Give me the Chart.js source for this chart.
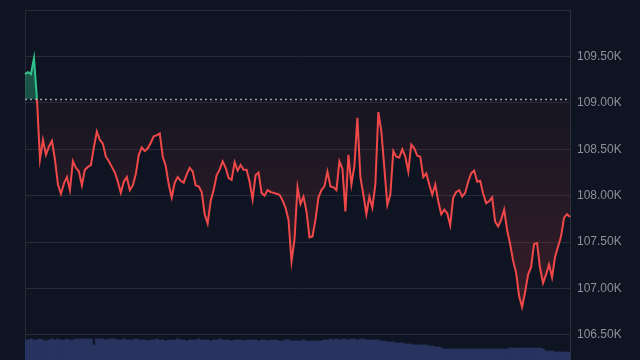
<!DOCTYPE html>
<html>
<head>
<meta charset="utf-8">
<script src="https://cdn.jsdelivr.net/npm/chart.js@4.4.1/dist/chart.umd.min.js"></script>
<style>
    html, body { margin: 0; padding: 0; background: #0e1421; }
    #wrap { width: 640px; height: 360px; }
</style>
</head>
<body>
<div id="wrap"><canvas id="priceChart"></canvas></div>
<script>
// =======================
// Intraday price chart – BTC style
// =======================

// ---------- DATA ----------
const prevClose = 109040;

const prices = [
    109310, 109330, 109310, 109480, 109040, 108390, 108600, 108440, 108530, 108590,
    108390, 108120, 108020, 108130, 108200, 108060, 108370, 108300, 108260, 108110,
    108280, 108310, 108330, 108520, 108690, 108600, 108560, 108420, 108370, 108310,
    108250, 108150, 108030, 108150, 108200, 108060, 108110, 108230, 108440, 108520,
    108480, 108510, 108570, 108640, 108650, 108670, 108420, 108320, 108120, 107980,
    108140, 108200, 108160, 108140, 108230, 108300, 108260, 108110, 108100, 108040,
    107800, 107700, 107940, 108060, 108220, 108280, 108370, 108300, 108190, 108170,
    108360, 108270, 108330, 108280, 108280, 108150, 107960, 108220, 108250, 108030,
    108000, 108060, 108040, 108030, 108020, 108010, 107950, 107870, 107740, 107290,
    107530, 108090, 107910, 107990, 107830, 107550, 107560, 107740, 107980, 108060,
    108100, 108260, 108100, 108090, 108060, 108370, 108290, 107830, 108440, 108120,
    108320, 108840, 108200, 108010, 107800, 107990, 107870, 108120, 108900, 108690,
    108300, 107900, 108010, 108480, 108420, 108410, 108500, 108420, 108260, 108550,
    108510, 108430, 108420, 108200, 108240, 108120, 108010, 108120, 107940, 107800,
    107850, 107810, 107680, 107980, 108040, 108060, 107990, 108030, 108150, 108240,
    108270, 108150, 108160, 108020, 107920, 107940, 107980, 107720, 107670, 107740,
    107850, 107630, 107480, 107300, 107170, 106920, 106800, 106960, 107150, 107230,
    107480, 107490, 107220, 107060, 107150, 107260, 107120, 107340, 107450, 107560,
    107760, 107800, 107770
];

const volumes = [
    20, 20, 21, 20, 20, 21, 20, 19, 20, 21,
    20, 21, 20, 20, 21, 20, 20, 21, 21, 21,
    21, 21, 21, 15, 21, 21, 21, 20, 21, 21,
    21, 20, 20, 21, 20, 20, 20, 21, 20, 20,
    20, 19, 20, 20, 21, 20, 20, 19, 20, 20,
    20, 21, 20, 20, 19, 20, 20, 20, 21, 20,
    20, 20, 19, 20, 20, 21, 20, 20, 20, 19,
    20, 20, 20, 19, 20, 20, 20, 20, 19, 20,
    20, 19, 20, 20, 20, 19, 19, 20, 20, 19,
    19, 19, 19, 20, 19, 19, 19, 19, 19, 19,
    20, 20, 21, 20, 21, 20, 21, 21, 20, 21,
    21, 20, 21, 21, 20, 20, 20, 20, 20, 19,
    19, 18, 18, 18, 17, 17, 17, 16, 16, 16,
    15, 15, 15, 15, 15, 14, 14, 13, 13, 12,
    11, 11, 11, 11, 11, 11, 11, 11, 11, 11,
    11, 11, 11, 11, 11, 11, 11, 11, 11, 11,
    11, 11, 12, 12, 12, 12, 12, 12, 12, 12,
    12, 12, 12, 11, 9, 9, 9, 8, 8, 8,
    8, 8, 8
];

const priceTicks = [106500, 107000, 107500, 108000, 108500, 109000, 109500, 110000];

// time index for the hidden x axis
const labels = prices.map((_, i) => i);

// ---------- COLORS ----------
const BG = "#0e1421";
const GRID = "#252b37";
const UP = "#2fc28a";
const DOWN = "#f04848";

// split gradient at prev close: green above, red below
function splitGradient(chart, topColors, bottomColors) {
    const { ctx, chartArea, scales } = chart;
    if (!chartArea) return null;
    const y0 = scales.y.getPixelForValue(prevClose);
    const f = Math.min(Math.max((y0 - chartArea.top) / (chartArea.bottom - chartArea.top), 0), 1);
    const g = ctx.createLinearGradient(0, chartArea.top, 0, chartArea.bottom);
    g.addColorStop(0, topColors[0]);
    g.addColorStop(f, topColors[1]);
    g.addColorStop(Math.min(f + 0.0005, 1), bottomColors[0]);
    g.addColorStop(1, bottomColors[1]);
    return g;
}

// ---------- PLUGINS ----------
const backdropPlugin = {
    id: "backdrop",
    beforeDraw(chart) {
        const { ctx, width, height } = chart;
        ctx.save();
        ctx.fillStyle = BG;
        ctx.fillRect(0, 0, width, height);
        ctx.restore();
    },
    beforeDatasetsDraw(chart) {
        const { ctx, chartArea } = chart;
        // left frame line
        ctx.save();
        ctx.strokeStyle = GRID;
        ctx.lineWidth = 1;
        ctx.beginPath();
        ctx.moveTo(chartArea.left + 0.5, chartArea.top);
        ctx.lineTo(chartArea.left + 0.5, chartArea.bottom);
        ctx.stroke();
        ctx.restore();
    },
    afterDatasetsDraw(chart) {
        const { ctx, chartArea, scales } = chart;
        const y = Math.round(scales.y.getPixelForValue(prevClose)) + 0.5;
        ctx.save();
        ctx.strokeStyle = "rgba(200,205,215,0.75)";
        ctx.lineWidth = 1.3;
        ctx.setLineDash([2, 3]);
        ctx.beginPath();
        ctx.moveTo(chartArea.left, y);
        ctx.lineTo(chartArea.right, y);
        ctx.stroke();
        ctx.restore();
    }
};

// ---------- INIT CHART ----------
const canvas = document.getElementById("priceChart");

new Chart(canvas, {
    data: {
        labels,
        datasets: [
            {
                type: "line",
                label: "Price",
                data: prices,
                yAxisID: "y",
                order: 1,
                borderWidth: 2,
                pointRadius: 0,
                tension: 0,
                borderColor(context) {
                    return splitGradient(context.chart, [UP, UP], [DOWN, DOWN]) || DOWN;
                },
                backgroundColor(context) {
                    return splitGradient(
                        context.chart,
                        ["rgba(47,194,138,0.45)", "rgba(47,194,138,0.35)"],
                        ["rgba(240,72,72,0.03)", "rgba(240,72,72,0.22)"]
                    ) || "transparent";
                },
                fill: { value: prevClose }
            },
            {
                type: "bar",
                label: "Volume",
                data: volumes,
                yAxisID: "yVol",
                order: 2,
                backgroundColor: "#28345f",
                borderWidth: 0,
                barPercentage: 1,
                categoryPercentage: 1
            }
        ]
    },
    plugins: [backdropPlugin],
    options: {
        responsive: true,
        maintainAspectRatio: false,
        animation: false,
        layout: { padding: { left: 25, top: 10, right: 0, bottom: 0 } },
        plugins: {
            legend: { display: false },
            tooltip: { enabled: false }
        },
        scales: {
            x: {
                type: "category",
                display: false,
                offset: false,
                grid: { display: false }
            },
            y: {
                position: "right",
                min: 106230,
                max: 110000,
                afterBuildTicks(scale) {
                    scale.ticks = priceTicks.map(v => ({ value: v }));
                },
                afterFit(scale) {
                    scale.width = 70;
                    // labels sit well inside the range, no extra room needed
                    scale.paddingTop = 0;
                    scale.paddingBottom = 0;
                },
                grid: { color: GRID, drawTicks: false },
                border: { display: true, color: "#2b313d" },
                ticks: {
                    color: "#8a909c",
                    padding: 7,
                    font: { family: "'Liberation Sans', Arial, sans-serif", size: 12 },
                    callback(value) {
                        return value >= 110000 ? "" : (value / 1000).toFixed(2) + "K";
                    }
                }
            },
            yVol: {
                display: false,
                min: 0,
                max: 350,
                afterFit(scale) {
                    scale.paddingTop = 0;
                    scale.paddingBottom = 0;
                }
            }
        }
    }
});
</script>
</body>
</html>
